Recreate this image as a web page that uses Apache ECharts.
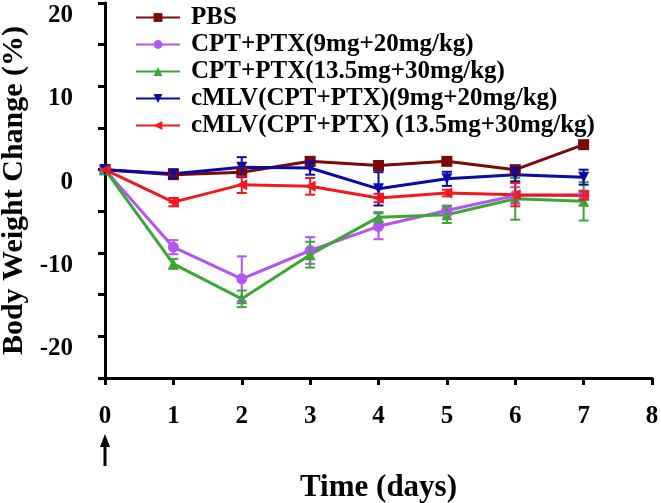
<!DOCTYPE html>
<html><head><meta charset="utf-8">
<script src="https://cdn.jsdelivr.net/npm/echarts@6/dist/echarts.min.js"></script>
<style>html,body{margin:0;padding:0;background:#fff}#c{width:661px;height:503px}</style>
</head><body><div id="c"></div>
<script>
const days = [0, 1, 2, 3, 4, 5, 6, 7];
const xTicks = [0, 1, 2, 3, 4, 5, 6, 7, 8];
const yLabels = [-20, -10, 0, 10, 20];
const names = ['PBS', 'CPT+PTX(9mg+20mg/kg)', 'CPT+PTX(13.5mg+30mg/kg)', 'cMLV(CPT+PTX)(9mg+20mg/kg)', 'cMLV(CPT+PTX) (13.5mg+30mg/kg)'];
const pbs      = [0, -0.6, -0.3, 1.0, 0.5, 1.0, 0.0, 3.0];
const pbsErr   = [0, 0.5, 0.5, 0.4, 0.3, 0.3, 0.3, 0.3];
const free9    = [0, -9.3, -13.1, -9.7, -6.8, -4.9, -3.1, -3.0];
const free9Err = [0, 0.85, 2.7, 1.6, 1.55, 0.6, 1.0, 0.5];
const free13   = [0, -11.3, -15.5, -10.2, -5.7, -5.4, -3.5, -3.8];
const free13Err= [0, 0.6, 1.0, 1.55, 0.6, 1.0, 2.5, 2.3];
const cmlv9    = [0, -0.5, 0.3, 0.2, -2.3, -1.1, -0.6, -0.9];
const cmlv9Err = [0, 0.5, 1.2, 0.8, 2.0, 0.85, 0.8, 0.9];
const cmlv13   = [0, -3.9, -1.8, -2.0, -3.4, -2.8, -3.0, -3.1];
const cmlv13Err= [0, 0.5, 1.0, 1.0, 0.5, 0.4, 1.4, 0.5];

const colors = ['#7a0a0a', '#b554f0', '#3aa832', '#0a0aa8', '#f01a1e'];
const symbols = ['rect', 'circle', 'triangle', 'triangle', 'triangle'];
const rotates = [0, 0, 0, 180, 90];
const vals = [pbs, free9, free13, cmlv9, cmlv13];
const errs = [pbsErr, free9Err, free13Err, cmlv9Err, cmlv13Err];
const FONT = 'Liberation Serif';

const series = [];
vals.forEach((v, i) => {
  series.push({
    type: 'line', name: names[i], data: days.map((d, k) => [d, v[k]]),
    symbol: symbols[i], symbolRotate: rotates[i], symbolSize: 11,
    lineStyle: { color: colors[i], width: 3 }, itemStyle: { color: colors[i] },
    z: 3
  });
  series.push({
    type: 'custom', name: names[i] + ' err',
    data: days.map((d, k) => [d, v[k], errs[i][k]]),
    encode: { x: 0, y: 1 },
    z: 4,
    renderItem: function (params, api) {
      const x = api.value(0), y = api.value(1), e = api.value(2);
      if (!e) return null;
      const hi = api.coord([x, y + e]);
      const lo = api.coord([x, y - e]);
      const w = 5;
      const st = { stroke: colors[i], lineWidth: 2 };
      return { type: 'group', children: [
        { type: 'line', shape: { x1: hi[0], y1: hi[1], x2: lo[0], y2: lo[1] }, style: st },
        { type: 'line', shape: { x1: hi[0] - w, y1: hi[1], x2: hi[0] + w, y2: hi[1] }, style: st },
        { type: 'line', shape: { x1: lo[0] - w, y1: lo[1], x2: lo[0] + w, y2: lo[1] }, style: st }
      ]};
    }
  });
});

const chart = echarts.init(document.getElementById('c'));
chart.setOption({
  animation: false,
  backgroundColor: '#fff',
  grid: { left: 105, right: 9, top: 3, bottom: 125, containLabel: false, outerBoundsMode: 'none' },
  legend: {
    data: names, orient: 'vertical', left: 130, top: 0, itemGap: 2,
    itemWidth: 44, itemHeight: 11,
    textStyle: { fontFamily: FONT, fontWeight: 'bold', fontSize: 25, color: '#000', padding: [0, 0, 0, 6] }
  },
  xAxis: {
    type: 'value', min: 0, max: 8, interval: 1,
    name: 'Time (days)', nameLocation: 'middle', nameGap: 94,
    nameTextStyle: { fontFamily: FONT, fontWeight: 'bold', fontSize: 31, color: '#000' },
    axisLine: { show: true, onZero: false, lineStyle: { color: '#000', width: 3 } },
    axisTick: { show: true, length: 7, lineStyle: { color: '#000', width: 3 } },
    axisLabel: { margin: 26, fontFamily: FONT, fontWeight: 'bold', fontSize: 25, color: '#000',
      formatter: v => xTicks.indexOf(v) >= 0 ? String(v) : '' },
    splitLine: { show: false }
  },
  yAxis: {
    type: 'value', min: -25, max: 20, interval: 5,
    name: 'Body Weight Change (%)', nameLocation: 'middle', nameGap: 74, nameRotate: 90,
    nameTextStyle: { fontFamily: FONT, fontWeight: 'bold', fontSize: 30, color: '#000' },
    axisLine: { show: true, onZero: false, lineStyle: { color: '#000', width: 3 } },
    axisTick: { show: true, length: 7, lineStyle: { color: '#000', width: 3 } },
    axisLabel: { margin: 32, verticalAlign: 'top', fontFamily: FONT, fontWeight: 'bold', fontSize: 25, color: '#000',
      formatter: v => yLabels.indexOf(v) >= 0 ? String(v) : '' },
    splitLine: { show: false }
  },
  series: series
});

const ax = chart.convertToPixel({ xAxisIndex: 0 }, 0);
chart.setOption({
  graphic: [
    { type: 'line', shape: { x1: ax, y1: 466, x2: ax, y2: 444 }, style: { stroke: '#000', lineWidth: 3 } },
    { type: 'polygon', shape: { points: [[ax - 5, 447], [ax + 5, 447], [ax, 434]] }, style: { fill: '#000' } }
  ]
});
</script></body></html>
